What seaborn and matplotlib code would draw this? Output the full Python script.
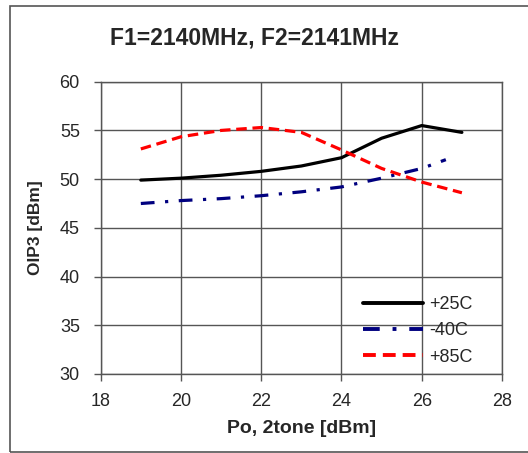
import matplotlib
matplotlib.use("Agg")
import matplotlib.pyplot as plt
import seaborn as sns
import pandas as pd
from matplotlib.patches import Rectangle

# Output power sweep (two-tone), dBm
po_25 = [19, 20, 21, 22, 23, 24, 25, 26, 27]
oip3_25 = [49.9, 50.1, 50.4, 50.8, 51.35, 52.2, 54.2, 55.5, 54.8]

po_m40 = [19, 20, 21, 22, 23, 24, 25, 26, 26.6]
oip3_m40 = [47.5, 47.8, 48.0, 48.3, 48.7, 49.2, 50.1, 51.1, 52.0]

po_85 = [19, 20, 21, 22, 23, 24, 25, 26, 27]
oip3_85 = [53.1, 54.35, 55.0, 55.3, 54.8, 53.0, 51.1, 49.7, 48.6]

labels = ["+25C", "-40C", "+85C"]
colors = ["#000000", "#00007F", "#FF0000"]
dash_styles = ["", (4.3, 3.3, 1.0, 3.3), (3.3, 1.8)]

x_ticks = [18, 20, 22, 24, 26, 28]
y_ticks = [30, 35, 40, 45, 50, 55, 60]

frames = []
for lab, xs, ys in [(labels[0], po_25, oip3_25),
                    (labels[1], po_m40, oip3_m40),
                    (labels[2], po_85, oip3_85)]:
    frames.append(pd.DataFrame({"Po": xs, "OIP3": ys, "Temp": lab}))
df = pd.concat(frames, ignore_index=True)

sns.set_style("white")
plt.rcParams["font.family"] = ["Liberation Sans", "DejaVu Sans"]

fig = plt.figure(figsize=(5.28, 4.53), dpi=100)
ax = fig.add_axes([0.1907, 0.1744, 0.9508 - 0.1907, 0.8196 - 0.1744])

# outer chart border
fig.patches.append(Rectangle((10 / 528, 1 / 453), 1.2, 1 - 7 / 453,
                             transform=fig.transFigure, fill=False,
                             edgecolor="#555555", linewidth=1.2, clip_on=False))

sns.lineplot(data=df, x="Po", y="OIP3", hue="Temp", style="Temp",
             hue_order=labels, style_order=labels,
             palette=dict(zip(labels, colors)),
             dashes=dict(zip(labels, dash_styles)),
             linewidth=2.3, ax=ax, legend=True)

ax.set_xlim(18, 28)
ax.set_ylim(30, 60)
ax.set_xticks(x_ticks)
ax.set_yticks(y_ticks)
ax.grid(True, color="#555555", linewidth=1.0)
for s in ax.spines.values():
    s.set_color("#555555")
    s.set_linewidth(1.0)
ax.tick_params(axis="both", which="major", length=5, width=1.0,
               color="#555555", labelsize=13, direction="out",
               bottom=True, left=True)
ax.tick_params(axis="x", pad=9)
ax.tick_params(axis="y", pad=10)

ax.set_xlabel("Po, 2tone [dBm]", fontsize=14, fontweight="bold", labelpad=7)
ax.set_ylabel("OIP3 [dBm]", fontsize=12.5, fontweight="bold", labelpad=12)

fig.text(255 / 528, 1 - 38 / 453, "F1=2140MHz, F2=2141MHz",
         ha="center", va="center", fontsize=16.5, fontweight="bold")

leg = ax.legend(loc="upper left", bbox_to_anchor=(0.654, 0.267), frameon=False,
                fontsize=13, handlelength=3.3, handletextpad=0.35,
                labelspacing=0.52, borderpad=0, borderaxespad=0)
for h in leg.get_lines():
    h.set_linewidth(2.8)

fig.savefig("out.png", dpi=100)
